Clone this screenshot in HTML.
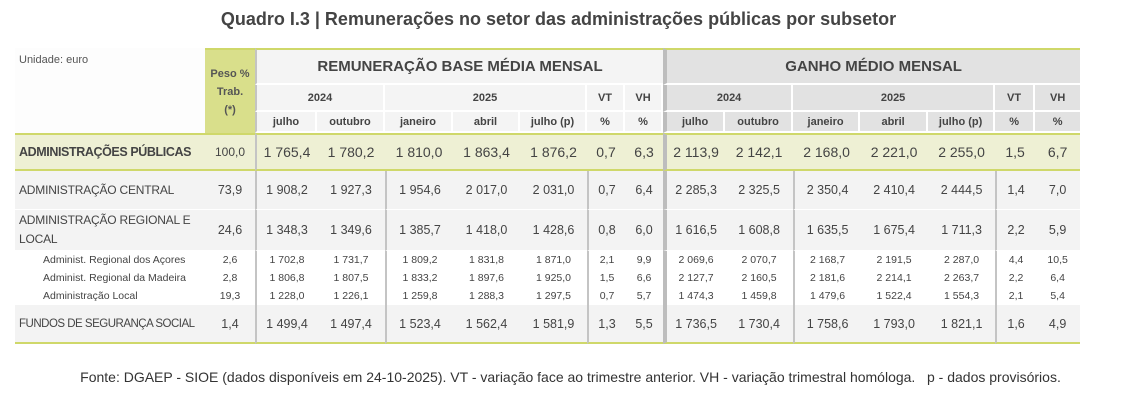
<!DOCTYPE html>
<html><head><meta charset="utf-8">
<style>
body{margin:0;width:1131px;height:402px;background:#fff;font-family:"Liberation Sans",sans-serif;color:#444;position:relative;overflow:hidden}
#title{position:absolute;left:0;width:1117px;top:9px;text-align:center;font-size:18px;font-weight:bold;color:#444}
table{position:absolute;left:15px;top:48px;width:1065px;border-collapse:separate;border-spacing:0;table-layout:fixed}
td{padding:0;text-align:center;white-space:nowrap;overflow:hidden;box-sizing:border-box}
.h1 td{height:37px}
.hA td{font-size:11px;font-weight:bold}
.hL{background:#f4f4f4}
.hR{background:#e2e2e2}
.hb{border-right:2px solid #fff;border-bottom:2px solid #fff}
.top{border-top:2px solid #cfd86a}
.peso{background:#d9df8b;font-weight:bold;font-size:11px;color:#555;line-height:18px;border-top:2px solid #cfd86a}
.ap td{background:#eef0d4;height:38px;font-size:14px;border-top:2px solid #cfd86a;border-bottom:2px solid #cfd86a}
.m td{background:#f3f3f3;font-size:12.5px;border-bottom:1px solid #fff}
.s td{background:#fff;font-size:10.5px;height:18px}
.lab{text-align:left;padding-left:4px}
.m td.lab{font-size:12px;letter-spacing:-0.2px}
.vl{border-left:2px solid #c4c4c4}
.vs{border-left:4px solid #bdbdbd}
.last td{border-bottom:2px solid #cfd86a}
#src{position:absolute;left:0;width:1131px;top:369px;text-align:center;font-size:14px;color:#333;padding-left:10px;box-sizing:border-box}
</style></head><body>
<div id="title">Quadro I.3 | Remunerações no setor das administrações públicas por subsetor</div>
<table>
<colgroup><col style="width:190px"><col style="width:50px"><col style="width:62px"><col style="width:68px"><col style="width:68px"><col style="width:67px"><col style="width:67px"><col style="width:38px"><col style="width:38px"><col style="width:62px"><col style="width:68px"><col style="width:67px"><col style="width:68px"><col style="width:67px"><col style="width:40px"><col style="width:45px"></colgroup>
<tr class="h1">
<td rowspan="3" class="lab" style="vertical-align:top;font-size:11px;padding-top:6px;color:#555;background:#fdfdfd">Unidade: euro</td>
<td rowspan="3" class="peso">Peso %<br>Trab.<br>(*)</td>
<td colspan="7" class="hL top vl" style="font-size:15px;font-weight:bold;border-bottom:2px solid #fff">REMUNERAÇÃO BASE MÉDIA MENSAL</td>
<td colspan="7" class="hR top vs" style="font-size:15px;font-weight:bold;border-bottom:2px solid #fff">GANHO MÉDIO MENSAL</td>
</tr>
<tr class="hA" style="height:27px">
<td colspan="2" class="hL hb vl">2024</td><td colspan="3" class="hL hb">2025</td><td class="hL hb">VT</td><td class="hL hb">VH</td>
<td colspan="2" class="hR hb vs">2024</td><td colspan="3" class="hR hb">2025</td><td class="hR hb">VT</td><td class="hR" style="border-bottom:2px solid #fff">VH</td>
</tr>
<tr class="hA" style="height:21px">
<td class="hL hb vl">julho</td><td class="hL hb">outubro</td><td class="hL hb">janeiro</td><td class="hL hb">abril</td><td class="hL hb">julho (p)</td><td class="hL hb">%</td><td class="hL hb">%</td>
<td class="hR hb vs">julho</td><td class="hR hb">outubro</td><td class="hR hb">janeiro</td><td class="hR hb">abril</td><td class="hR hb">julho (p)</td><td class="hR hb">%</td><td class="hR" style="border-bottom:2px solid #fff">%</td>
</tr>
<tr class="ap">
<td class="lab" style="font-weight:bold;font-size:12.5px;letter-spacing:-0.4px">ADMINISTRAÇÕES PÚBLICAS</td><td style="font-size:12px">100,0</td>
<td class="vl">1 765,4</td><td>1 780,2</td><td>1 810,0</td><td>1 863,4</td><td>1 876,2</td><td>0,7</td><td>6,3</td>
<td class="vs">2 113,9</td><td>2 142,1</td><td>2 168,0</td><td>2 221,0</td><td>2 255,0</td><td>1,5</td><td>6,7</td></tr>
<tr class="m" style="height:39px">
<td class="lab">ADMINISTRAÇÃO CENTRAL</td><td>73,9</td>
<td class="vl">1 908,2</td><td>1 927,3</td><td class="vl">1 954,6</td><td>2 017,0</td><td>2 031,0</td><td class="vl">0,7</td><td>6,4</td>
<td class="vs">2 285,3</td><td>2 325,5</td><td class="vl">2 350,4</td><td>2 410,4</td><td>2 444,5</td><td class="vl">1,4</td><td>7,0</td></tr>
<tr class="m" style="height:41px">
<td class="lab" style="white-space:normal;line-height:19px">ADMINISTRAÇÃO REGIONAL E LOCAL</td><td>24,6</td>
<td class="vl">1 348,3</td><td>1 349,6</td><td class="vl">1 385,7</td><td>1 418,0</td><td>1 428,6</td><td class="vl">0,8</td><td>6,0</td>
<td class="vs">1 616,5</td><td>1 608,8</td><td class="vl">1 635,5</td><td>1 675,4</td><td>1 711,3</td><td class="vl">2,2</td><td>5,9</td></tr>
<tr class="s">
<td class="lab" style="padding-left:28px">Administ. Regional dos Açores</td><td>2,6</td>
<td class="vl">1 702,8</td><td>1 731,7</td><td class="vl">1 809,2</td><td>1 831,8</td><td>1 871,0</td><td class="vl">2,1</td><td>9,9</td>
<td class="vs">2 069,6</td><td>2 070,7</td><td class="vl">2 168,7</td><td>2 191,5</td><td>2 287,0</td><td class="vl">4,4</td><td>10,5</td></tr>
<tr class="s">
<td class="lab" style="padding-left:28px">Administ. Regional da Madeira</td><td>2,8</td>
<td class="vl">1 806,8</td><td>1 807,5</td><td class="vl">1 833,2</td><td>1 897,6</td><td>1 925,0</td><td class="vl">1,5</td><td>6,6</td>
<td class="vs">2 127,7</td><td>2 160,5</td><td class="vl">2 181,6</td><td>2 214,1</td><td>2 263,7</td><td class="vl">2,2</td><td>6,4</td></tr>
<tr class="s">
<td class="lab" style="padding-left:28px">Administração Local</td><td>19,3</td>
<td class="vl">1 228,0</td><td>1 226,1</td><td class="vl">1 259,8</td><td>1 288,3</td><td>1 297,5</td><td class="vl">0,7</td><td>5,7</td>
<td class="vs">1 474,3</td><td>1 459,8</td><td class="vl">1 479,6</td><td>1 522,4</td><td>1 554,3</td><td class="vl">2,1</td><td>5,4</td></tr>
<tr class="m last" style="height:39px">
<td class="lab" style="font-size:11.5px;letter-spacing:-0.5px">FUNDOS DE SEGURANÇA SOCIAL</td><td>1,4</td>
<td class="vl">1 499,4</td><td>1 497,4</td><td class="vl">1 523,4</td><td>1 562,4</td><td>1 581,9</td><td class="vl">1,3</td><td>5,5</td>
<td class="vs">1 736,5</td><td>1 730,4</td><td class="vl">1 758,6</td><td>1 793,0</td><td>1 821,1</td><td class="vl">1,6</td><td>4,9</td></tr>
</table>
<div id="src">Fonte: DGAEP - SIOE (dados disponíveis em 24-10-2025). VT - variação face ao trimestre anterior. VH - variação trimestral homóloga.&nbsp;&nbsp; p - dados provisórios.</div>
</body></html>
